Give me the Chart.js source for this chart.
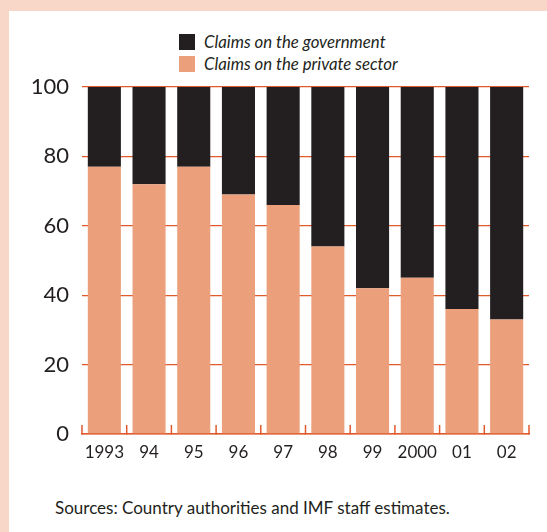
<!DOCTYPE html>
<html>
<head>
<meta charset="utf-8">
<script src="https://cdn.jsdelivr.net/npm/chart.js@4.4.1/dist/chart.umd.min.js"></script>
<style>
  body { margin: 0; background: #f8d6c8; width: 547px; height: 532px; overflow: hidden; font-family: Lato, sans-serif; color: #231f20; }
  #panel { position: absolute; left: 9px; top: 11px; width: 538px; height: 521px; background: #fff; }
  #wrap { position: absolute; left: 0; top: 0; width: 547px; height: 470px; }
  .legend { position: absolute; left: 179px; font-style: italic; font-size: 16.8px; line-height: 16px; }
  .legend span { display: inline-block; width: 16px; height: 16px; vertical-align: top; margin-right: 9px; }
  #source { position: absolute; left: 55px; top: 497px; font-size: 17px; }
</style>
</head>
<body>
<div id="panel"></div>
<div class="legend" style="top:34px"><span style="background:#231f20"></span>Claims on the government</div>
<div class="legend" style="top:56px"><span style="background:#eba07b"></span>Claims on the private sector</div>
<div id="wrap"><canvas id="myChart"></canvas></div>
<div id="source">Sources: Country authorities and IMF staff estimates.</div>
<script>
  const labels = ['1993', '94', '95', '96', '97', '98', '99', '2000', '01', '02'];
  const privateSector = [77, 72, 77, 69, 66, 54, 42, 45, 36, 33];
  const government = [23, 28, 23, 31, 34, 46, 58, 55, 64, 67];
  const yTicks = [0, 20, 40, 60, 80, 100];

  const red = '#e2592b';

  // little upward ticks between the categories on the x axis
  const catTicks = {
    id: 'catTicks',
    afterDatasetsDraw(chart) {
      const x = chart.scales.x;
      const ctx = chart.ctx;
      const n = labels.length;
      const w = (x.right - x.left) / n;
      ctx.save();
      ctx.strokeStyle = red;
      ctx.lineWidth = 1.5;
      for (let i = 0; i <= n; i++) {
        const px = x.left + i * w;
        ctx.beginPath();
        ctx.moveTo(px, x.top + 0.5);
        ctx.lineTo(px, x.top - 9);
        ctx.stroke();
      }
      ctx.restore();
    }
  };

  const data = {
    labels: labels,
    datasets: [{
      label: 'Claims on the private sector',
      backgroundColor: '#eba07b',
      data: privateSector,
    },
    {
      label: 'Claims on the government',
      backgroundColor: '#231f20',
      data: government,
    }
  ]
  };

  const config = {
    type: 'bar',
    data: data,
    options: {
      responsive: true,
      maintainAspectRatio: false,
      animation: false,
      barPercentage: 0.74,
      categoryPercentage: 1,
      layout: { padding: { top: 87, right: 18, left: 0, bottom: 0 } },
      plugins: {
        legend: { display: false },
        tooltip: { enabled: false }
      },
      scales: {
        x: {
          stacked: true,
          afterFit: (s) => { s.height = 36; },
          grid: { display: false, drawTicks: false },
          border: { display: true, color: red, width: 1.5 },
          ticks: {
            color: '#231f20',
            padding: 8,
            maxRotation: 0,
            font: { family: 'Lato', size: 17 }
          }
        },
        y: {
          stacked: true,
          min: 0,
          max: 100,
          afterFit: (s) => { s.width = 82; },
          afterBuildTicks: (s) => { s.ticks = yTicks.map(v => ({ value: v })); },
          grid: { color: red, lineWidth: 1.3, drawTicks: false },
          border: { display: false },
          ticks: {
            color: '#231f20',
            padding: 13,
            font: { family: 'Lato', size: 22 }
          }
        }
      }
    },
    plugins: [catTicks]
  };

  const myChart = new Chart(
    document.getElementById('myChart'),
    config
  );
</script>
</body>
</html>
